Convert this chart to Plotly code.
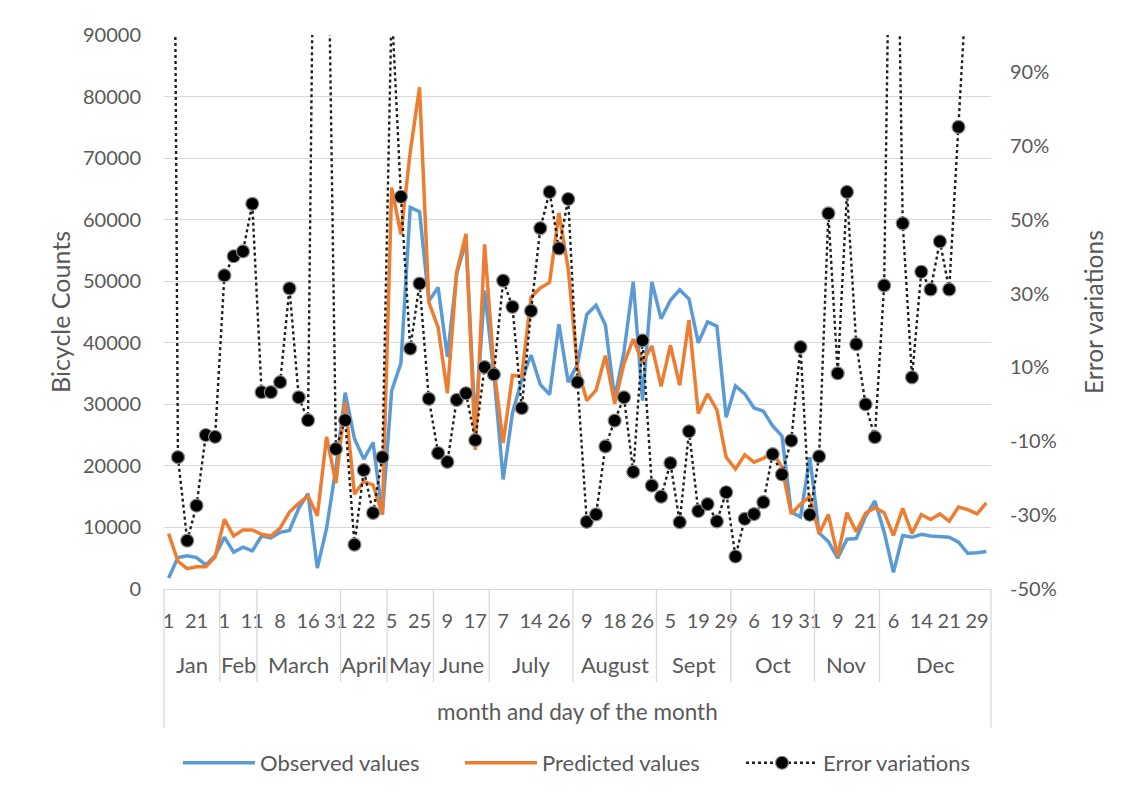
import plotly.graph_objects as go

# ---------------- data ----------------
months = ["Jan", "Feb", "March", "April", "May", "June", "July",
          "August", "Sept", "Oct", "Nov", "Dec"]
month_days = [
    [1, 8, 15, 21, 25, 29],
    [1, 4, 8, 11],
    [1, 4, 8, 10, 13, 16, 21, 26, 31],
    [6, 14, 22, 26, 29],
    [5, 12, 19, 25, 30],
    [3, 9, 12, 15, 17, 24],
    [2, 7, 9, 12, 14, 18, 21, 26, 30],
    [4, 9, 12, 15, 18, 21, 23, 26, 30],
    [2, 5, 9, 14, 19, 23, 26, 29],
    [1, 3, 6, 10, 14, 19, 23, 27, 31],
    [2, 5, 9, 13, 17, 21, 26],
    [2, 6, 9, 12, 14, 17, 19, 21, 24, 27, 29, 31],
]

observed = [
    1800, 5100, 5400, 5100, 3900, 5400,
    8400, 6000, 6800, 6200,
    8600, 8300, 9200, 9500, 13100, 15500, 3400, 9900, 19600,
    31900, 24400, 21100, 23800, 12100,
    32200, 36700, 62000, 61300, 46800,
    49000, 37700, 51200, 56500, 26500, 48500,
    35000, 17800, 28600, 34000, 38000, 33200, 31600, 43000, 33600,
    36500, 44600, 46100, 42900, 31000, 38500, 49900, 30600, 49900,
    43900, 46900, 48600, 47100, 40000, 43400, 42700, 27900,
    33000, 31700, 29400, 28900, 26500, 24900, 12500, 11700, 21400,
    9100, 7700, 5000, 8100, 8200, 11800, 14300,
    9300, 2700, 8700, 8400, 8900, 8600, 8500, 8400, 7600, 5800, 5900, 6100,
]

predicted = [
    9000, 4500, 3300, 3600, 3600, 5200,
    11300, 8600, 9600, 9600,
    8900, 8600, 9900, 12500, 13900, 15100, 11900, 24700, 17200,
    30400, 15400, 17500, 16900, 12100,
    65200, 57600, 71000, 81500, 46600,
    42500, 31800, 51500, 57700, 22600, 56000,
    36000, 23700, 34700, 34600, 47400, 48900, 49800, 61100, 52000,
    36000, 30600, 32300, 37900, 30100, 36600, 40600, 36800, 39500,
    32900, 39600, 33100, 43700, 28500, 31700, 29100, 21400,
    19500, 21800, 20600, 21200, 22300, 19800, 12200, 13800, 15000,
    9000, 12100, 5300, 12400, 9300, 12300, 13200,
    12400, 8700, 13100, 9000, 12100, 11300, 12200, 11000, 13300, 12900, 12200, 14000,
]

error_variation = [
    4.00, -0.143, -0.369, -0.274, -0.083, -0.088,
    0.349, 0.401, 0.414, 0.543,
    0.033, 0.033, 0.060, 0.314, 0.019, -0.043, 2.30, 1.60, -0.121,
    -0.043, -0.380, -0.178, -0.294, -0.143,
    1.08, 0.562, 0.151, 0.327, 0.015,
    -0.132, -0.156, 0.012, 0.030, -0.097, 0.101,
    0.081, 0.335, 0.264, -0.010, 0.253, 0.477, 0.575, 0.422, 0.556,
    0.060, -0.318, -0.298, -0.114, -0.044, 0.019, -0.183, 0.173, -0.220,
    -0.250, -0.159, -0.319, -0.073, -0.289, -0.270, -0.317, -0.238,
    -0.412, -0.310, -0.297, -0.265, -0.135, -0.190, -0.098, 0.155, -0.299,
    -0.141, 0.517, 0.084, 0.575, 0.163, 0.000, -0.089,
    0.322, 2.10, 0.490, 0.073, 0.359, 0.311, 0.441, 0.311, 0.751, 1.20, 1.15, 1.30,
]

left_ticks = [0, 10000, 20000, 30000, 40000, 50000, 60000, 70000, 80000, 90000]
right_ticks = [-0.5, -0.3, -0.1, 0.1, 0.3, 0.5, 0.7, 0.9]
right_tick_text = ["-50%", "-30%", "-10%", "10%", "30%", "50%", "70%", "90%"]

# ---------------- build ----------------
month_of, day_of = [], []
for m, days in zip(months, month_days):
    for d in days:
        month_of.append(m)
        day_of.append(str(d))
n = len(day_of)
x = list(range(n))
hover = [f"{m} {d}" for m, d in zip(month_of, day_of)]

TXT = "#595959"
GRID = "#D9D9D9"
FONT = "Lato"

fig = go.Figure()
fig.add_trace(go.Scatter(
    x=x, y=observed, name="Observed values", mode="lines", text=hover,
    legend="legend", showlegend=True,
    line=dict(color="#5B9BD5", width=3.5)))
fig.add_trace(go.Scatter(
    x=x, y=predicted, name="Predicted values", mode="lines", text=hover,
    legend="legend2", showlegend=True,
    line=dict(color="#ED7D31", width=3.5)))
fig.add_trace(go.Scatter(
    x=x, y=error_variation, name="Error variations", mode="lines+markers",
    yaxis="y2", text=hover, legend="legend3", showlegend=True,
    line=dict(color="#1f1f1f", width=2.4, dash="dot"),
    marker=dict(color="black", size=13, line=dict(color="#8c8c8c", width=1.2))))

# month separators / labels beneath the axis
shapes = []
annotations = []
bounds = [0]
for days in month_days:
    bounds.append(bounds[-1] + len(days))
for k, b in enumerate(bounds):
    outer = (k == 0 or k == len(bounds) - 1)
    shapes.append(dict(type="line", xref="paper", yref="paper",
                       x0=b / n, x1=b / n, y0=0, y1=(-0.250 if outer else -0.168),
                       line=dict(color=GRID, width=1.3)))
for k, m in enumerate(months):
    cx = (bounds[k] + bounds[k + 1]) / 2 - 0.5
    annotations.append(dict(text=m, x=cx, xref="x", y=-0.137, yref="paper",
                            showarrow=False, xanchor="center", yanchor="middle",
                            font=dict(family=FONT, size=22, color=TXT)))
annotations.append(dict(text="month and day of the month", x=0.5, xref="paper",
                        y=-0.222, yref="paper", showarrow=False,
                        xanchor="center", yanchor="middle",
                        font=dict(family=FONT, size=22.5, color=TXT)))
annotations.append(dict(text="Bicycle Counts", x=-0.1258, xref="paper", y=0.5,
                        yref="paper", showarrow=False, textangle=-90,
                        xanchor="center", yanchor="middle",
                        font=dict(family=FONT, size=25, color=TXT)))
annotations.append(dict(text="Error variations", x=1.1233, xref="paper", y=0.5,
                        yref="paper", showarrow=False, textangle=-90,
                        xanchor="center", yanchor="middle",
                        font=dict(family=FONT, size=24.5, color=TXT)))


def legend_box(xpos):
    return dict(orientation="h", x=xpos, xanchor="left", y=-0.314,
                yanchor="middle", itemwidth=72, bgcolor="rgba(0,0,0,0)",
                visible=True,
                font=dict(family=FONT, size=22, color=TXT))


# page body has an 8px margin: shrink the figure so the plot area lands
# at the same window position as the reference
fig.update_layout(
    width=1120, height=785,
    margin=dict(l=156, r=137, t=27, b=204, autoexpand=False),
    paper_bgcolor="white", plot_bgcolor="white",
    font=dict(family=FONT, size=20, color=TXT),
    showlegend=True,
    shapes=shapes, annotations=annotations,
    legend=legend_box(0.0169),
    legend2=legend_box(0.3579),
    legend3=legend_box(0.6977),
    xaxis=dict(range=[-0.5, n - 0.5], tickmode="array", tickvals=x[::3],
               ticktext=day_of[::3], tickangle=0, showgrid=False,
               zeroline=False, showline=True, linecolor=GRID, linewidth=1,
               ticks="outside", ticklen=14, tickcolor="rgba(0,0,0,0)",
               tickfont=dict(family=FONT, size=20, color=TXT)),
    yaxis=dict(range=[0, 90000], tickmode="array", tickvals=left_ticks,
               tickformat="d", showgrid=True, gridcolor=GRID, gridwidth=1,
               zeroline=False, showline=False, ticks="", ticklabelstandoff=22,
               tickfont=dict(family=FONT, size=20, color=TXT)),
    yaxis2=dict(overlaying="y", side="right", range=[-0.5, 1.0],
                tickmode="array", tickvals=right_ticks, ticktext=right_tick_text,
                showgrid=False, zeroline=False, showline=False, ticks="",
                ticklabelstandoff=18,
                tickfont=dict(family=FONT, size=20, color=TXT)),
)

fig.write_html("out.html")
